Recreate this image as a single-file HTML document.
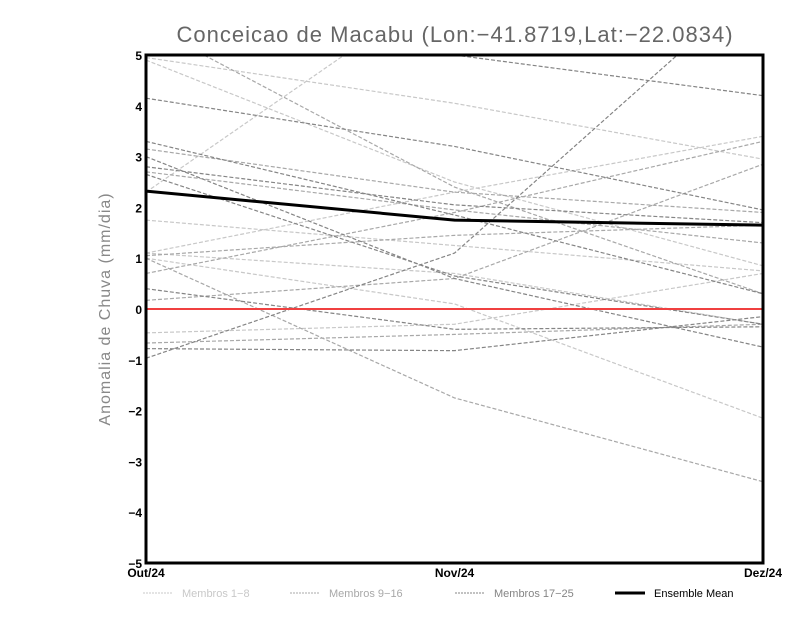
<!DOCTYPE html>
<html><head><meta charset="utf-8"><style>
body{margin:0;background:#fff;width:800px;height:618px;overflow:hidden}
svg{display:block;font-family:"Liberation Sans",sans-serif}
</style></head><body>
<svg id="c" width="800" height="618">
<defs><clipPath id="clip"><rect x="146" y="55" width="617" height="508"/></clipPath></defs>
<text x="455" y="42" text-anchor="middle" font-size="22" fill="#666" letter-spacing="1">Conceicao de Macabu (Lon:−41.8719,Lat:−22.0834)</text>
<text transform="translate(110,309) rotate(-90)" text-anchor="middle" font-size="16" fill="#888" letter-spacing="1">Anomalia de Chuva (mm/dia)</text>
<g id="lines" clip-path="url(#clip)"></g>
<g id="axes"></g>
</svg>
<script>
const categories=["Out/24","Nov/24","Dez/24"];
const yTicks=[-5,-4,-3,-2,-1,0,1,2,3,4,5];
const membros1_8=[[4.95,4.05,2.95],[4.9,2.5,0.85],[2.3,6.5,6.5],[1.75,1.25,0.75],[1.1,2.3,3.4],[-0.47,-0.3,0.7],[1.0,0.1,-2.15],[1.1,0.7,-0.3]];
const membros9_16=[[5.6,2.4,0.3],[3.15,2.3,1.9],[2.7,1.95,1.3],[1.05,1.45,1.65],[0.7,1.9,3.3],[0.17,0.6,2.85],[-0.67,-0.5,-0.3],[1.0,-1.75,-3.4]];
const membros17_25=[[4.15,3.2,1.95],[5.8,5.0,4.2],[3.3,1.85,0.3],[2.8,2.05,1.7],[2.65,0.65,-0.3],[0.4,-0.4,-0.35],[-0.78,-0.82,-0.15],[-0.97,1.1,6.5],[3.0,0.6,-0.75]];
const ensembleMean=[2.32,1.75,1.65];
const NS="http://www.w3.org/2000/svg";
const L=146,R=763,T=55,B=563;
function xs(i){return L+(R-L)*i/(categories.length-1);}
function ys(v){return B-(v+5)/10*(B-T);}
function mk(tag,attrs,parent){const e=document.createElementNS(NS,tag);for(const k in attrs)e.setAttribute(k,attrs[k]);parent.appendChild(e);return e;}
const lines=document.getElementById('lines'),axes=document.getElementById('axes'),svg=document.getElementById('c');
function pts(s){return s.map((v,i)=>xs(i)+','+ys(v)).join(' ');}
const groups=[[membros1_8,'#c8c8c8','membros-1-8-line'],[membros9_16,'#a8a8a8','membros-9-16-line'],[membros17_25,'#858585','membros-17-25-line']];
groups.forEach(g=>g[0].forEach(s=>{
 const p=mk('polyline',{points:pts(s),fill:'none',stroke:g[1],'stroke-width':1.2,'stroke-dasharray':'4 2'},lines);
 
 
}));
const z=mk('line',{x1:L,x2:R,y1:ys(0),y2:ys(0),stroke:'#f04040','stroke-width':2},lines);


const m=mk('polyline',{points:pts(ensembleMean),fill:'none',stroke:'#000','stroke-width':3},lines);


const fr=mk('rect',{x:L,y:T,width:R-L,height:B-T,fill:'none',stroke:'#000','stroke-width':3},axes);


yTicks.forEach(v=>{
 const t=mk('text',{x:L-4,y:ys(v)+5,'text-anchor':'end','font-size':12,'font-weight':'bold'},axes);
 t.textContent=v<0?'−'+(-v):String(v);
 
 
});
categories.forEach((c,i)=>{
 const t=mk('text',{x:xs(i),y:B+14,'text-anchor':'middle','font-size':12,'font-weight':'bold'},axes);
 t.textContent=c;
 
 
});
const legend=[['Membros 1−8','#c8c8c8',143,false],['Membros 9−16','#a8a8a8',290,false],['Membros 17−25','#858585',455,false],['Ensemble Mean','#000',615,true]];
legend.forEach(l=>{
 const g=mk('g',{},svg);
 
 
 mk('line',{x1:l[2],x2:l[2]+30,y1:593,y2:593,stroke:l[1],'stroke-width':l[3]?3:1,'stroke-dasharray':l[3]?'':'2 1'},g);
 const t=mk('text',{x:l[2]+39,y:597,'font-size':11,fill:l[3]?'#000':l[1]},g);
 t.textContent=l[0];
});
</script>
</body></html>
